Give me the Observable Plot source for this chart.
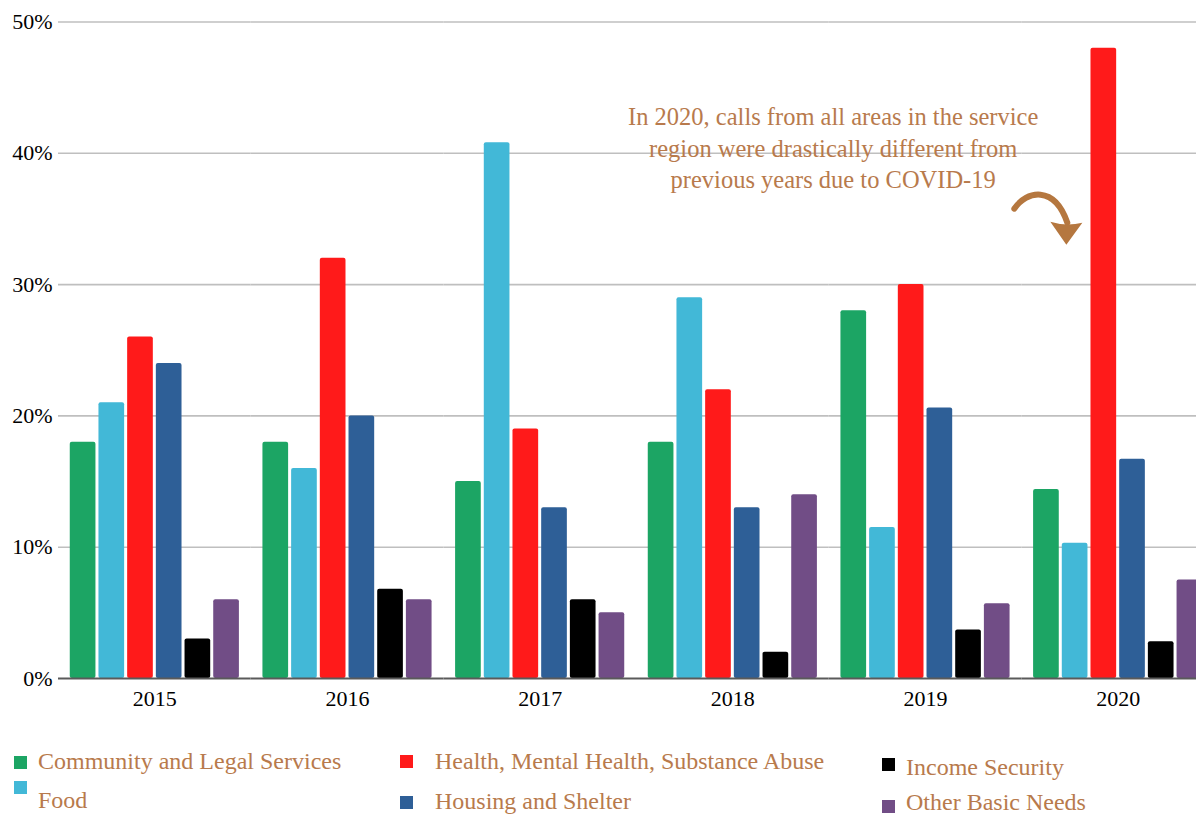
<!DOCTYPE html>
<html>
<head>
<meta charset="utf-8">
<script src="https://cdn.jsdelivr.net/npm/d3@7"></script>
<script src="https://cdn.jsdelivr.net/npm/@observablehq/plot@0.6"></script>
<style>
  html, body { margin: 0; padding: 0; background: #fff; overflow: hidden; }
  #wrap { position: relative; width: 1196px; height: 817px; overflow: hidden; background: #fff; font-family: "Liberation Serif", "DejaVu Serif", serif; }
  #chart { position: absolute; left: 0; top: 0; }
  #chart svg { max-width: none !important; }
  .lg-sw { position: absolute; width: 13px; height: 13px; }
  .lg-tx { position: absolute; font-size: 24px; line-height: 20px; color: #b87a4c; white-space: nowrap; }
</style>
</head>
<body>
<div id="wrap"><div id="chart"></div><div id="legend"></div></div>
<script>
// ---- data ----
const years = ["2015", "2016", "2017", "2018", "2019", "2020"];
const categories = [
  "Community and Legal Services",
  "Food",
  "Health, Mental Health, Substance Abuse",
  "Housing and Shelter",
  "Income Security",
  "Other Basic Needs"
];
const colors = ["#1ca564", "#42b8d7", "#ff1a1a", "#2e5f97", "#000000", "#714d86"];
const communityLegal = [18, 18, 15, 18, 28, 14.4];
const food           = [21, 16, 40.8, 29, 11.5, 10.3];
const healthMental   = [26, 32, 19, 22, 30, 48];
const housingShelter = [24, 20, 13, 13, 20.6, 16.7];
const incomeSecurity = [3, 6.8, 6, 2, 3.7, 2.8];
const otherBasic     = [6, 6, 5, 14, 5.7, 7.5];
const yTicks = [0, 10, 20, 30, 40, 50];
const noteLines = [
  "In 2020, calls from all areas in the service",
  "region were drastically different from",
  "previous years due to COVID-19"
];

const seriesValues = [communityLegal, food, healthMental, housingShelter, incomeSecurity, otherBasic];
const rows = [];
years.forEach((yr, i) => {
  categories.forEach((c, j) => rows.push({year: yr, cat: c, value: seriesValues[j][i] / 100}));
});

const textColor = "#b87a4c";

const plot = Plot.plot({
  width: 1214,
  height: 720,
  marginLeft: 58,
  marginRight: 0,
  marginTop: 21.5,
  marginBottom: 42,
  style: { fontFamily: "'Liberation Serif', 'DejaVu Serif', serif", fontSize: "22px", color: "#000", background: "#fff", maxWidth: "none" },
  fx: { domain: years, padding: 0, round: false, axis: "bottom", label: null, tickSize: 0, tickPadding: 12 },
  x: { domain: categories, axis: null, round: false, paddingInner: 0.105, paddingOuter: 0.41 },
  y: { domain: [0, 0.5], ticks: yTicks.map(t => t / 100), tickFormat: d => Math.round(d * 100) + "%", tickSize: 0, tickPadding: 6, label: null, grid: false },
  color: { domain: categories, range: colors },
  marks: [
    Plot.ruleY(yTicks.filter(t => t > 0).map(t => t / 100), { stroke: "#bfbfbf", strokeWidth: 1.6 }),
    Plot.barY(rows, { fx: "year", x: "cat", y: "value", fill: "cat", rx: 2 }),
    Plot.ruleY([0], { stroke: "#5a5a5a", strokeWidth: 2 }),
    Plot.text([noteLines.join("\n")], {
      fx: () => "2019",
      frameAnchor: "left",
      dx: 4,
      y: () => 0.405,
      text: d => d,
      textAnchor: "middle",
      lineAnchor: "middle",
      lineHeight: 1.28,
      fontSize: 24.5,
      fill: textColor
    })
  ]
});
plot.style.maxWidth = "none";
document.getElementById("chart").appendChild(plot);

// curved annotation arrow, anchored to the 2020 facet
(function () {
  const svg = d3.select(plot);
  const fx = plot.scale("fx"), y = plot.scale("y");
  const fx0 = fx.apply("2020");
  const tipX = fx0 + 45, tipY = y.apply(0.33);
  const g = svg.append("g").attr("fill", "#b5773f");
  g.append("path")
    .attr("d", `M${tipX - 52},${tipY - 36} C${tipX - 40},${tipY - 54} ${tipX - 12},${tipY - 60} ${tipX + 1},${tipY - 22}`)
    .attr("fill", "none").attr("stroke", "#b5773f").attr("stroke-width", 6).attr("stroke-linecap", "round");
  g.append("path")
    .attr("d", `M${tipX},${tipY} L${tipX - 16},${tipY - 23} Q${tipX},${tipY - 18} ${tipX + 16},${tipY - 22} Z`);
})();

// legend
const legendPos = [
  {sx: 14, sy: 756, tx: 38, base: 769},
  {sx: 14, sy: 781, tx: 38, base: 808},
  {sx: 400, sy: 755, tx: 435, base: 769},
  {sx: 400, sy: 796, tx: 435, base: 809},
  {sx: 882, sy: 758, tx: 906, base: 775},
  {sx: 882, sy: 800, tx: 906, base: 810}
];
const lg = document.getElementById("legend");
categories.forEach((c, i) => {
  const p = legendPos[i];
  const sw = document.createElement("div");
  sw.className = "lg-sw";
  sw.style.left = p.sx + "px"; sw.style.top = p.sy + "px"; sw.style.background = colors[i];
  lg.appendChild(sw);
  const tx = document.createElement("div");
  tx.className = "lg-tx";
  tx.style.left = p.tx + "px"; tx.style.top = (p.base - 18.1) + "px";
  tx.textContent = c;
  lg.appendChild(tx);
});
</script>
</body>
</html>
